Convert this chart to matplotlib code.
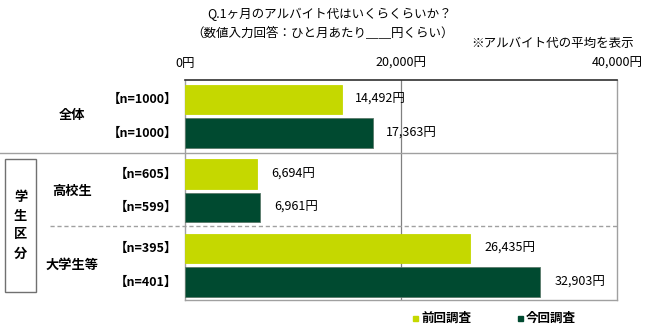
import matplotlib
matplotlib.use("Agg")
import matplotlib.pyplot as plt
from matplotlib.patches import Rectangle

plt.rcParams['font.family'] = ['Noto Sans CJK JP', 'DejaVu Sans']

groups = ["全体", "高校生", "大学生等"]
n_labels = ["【n=1000】", "【n=1000】", "【n=605】", "【n=599】", "【n=395】", "【n=401】"]
series_names = ["前回調査", "今回調査"]
prev_values = [14492, 6694, 26435]
curr_values = [17363, 6961, 32903]
tick_values = [0, 20000, 40000]
tick_labels = ["0円", "20,000円", "40,000円"]

c_prev = "#C5D800"
c_curr = "#004A30"

W, H = 663, 333
fig = plt.figure(figsize=(W / 100, H / 100), dpi=100)
ax_l, ax_r, ax_t, ax_b = 185, 617, 80, 300
ax = fig.add_axes([ax_l / W, 1 - ax_b / H, (ax_r - ax_l) / W, (ax_b - ax_t) / H])
ax.set_xlim(0, 40000)
ax.set_ylim(220, 0)

bar_h = 29.5
for g in range(3):
    for k, (vals, col) in enumerate([(prev_values, c_prev), (curr_values, c_curr)]):
        y = 19.5 + g * 74.5 + k * 33.5
        v = vals[g]
        ax.barh(y, v, height=bar_h, color=col, edgecolor="#5a7a6a" if k == 1 else col,
                linewidth=0.6, zorder=3)
        ax.annotate(f"{v:,}円", xy=(v, y), xytext=(10, 0), textcoords="offset points",
                    ha="left", va="center", fontsize=9, color="black")

ax.axvline(20000, color="#808080", lw=0.9, zorder=1)
ax.set_xticks(tick_values)
ax.set_xticklabels(tick_labels, fontsize=9)
ax.xaxis.tick_top()
ax.tick_params(axis="x", length=0, pad=7.5)
ax.set_yticks([])
for s in ["left", "right", "bottom"]:
    ax.spines[s].set_color("#a0a0a0")
    ax.spines[s].set_linewidth(1.0)
ax.spines["top"].set_color("#303030")
ax.spines["top"].set_linewidth(1.2)

# separators (figure coords)
def fx(px):
    return px / W
def fy(py):
    return 1 - py / H

fig.add_artist(plt.Line2D([fx(0), fx(617)], [fy(153), fy(153)], color="#a0a0a0", lw=1.0))
fig.add_artist(plt.Line2D([fx(50), fx(617)], [fy(226), fy(226)], color="#a0a0a0", lw=1.0,
                          linestyle=(0, (3, 2))))

# n labels
n_y = [99.5, 133, 174.5, 207, 248.5, 282]
for lab, py in zip(n_labels, n_y):
    fig.text(fx(177), fy(py), lab, ha="right", va="center", fontsize=9, fontweight="bold")

# group labels
for lab, py in zip(groups, [115, 191, 265]):
    fig.text(fx(72), fy(py), lab, ha="center", va="center", fontsize=9.5, fontweight="bold")

# 学生区分 box
fig.add_artist(Rectangle((fx(5), fy(292)), (36 - 5) / W, (292 - 159) / H,
                         transform=fig.transFigure, fill=False, edgecolor="#707070", lw=1.0))
fig.text(fx(20.5), fy(225), "学\n生\n区\n分", ha="center", va="center", fontsize=9.5,
         fontweight="bold", linespacing=1.45)

# titles
fig.text(fx(330), fy(14), "Q.1ヶ月のアルバイト代はいくらくらいか？", ha="center", va="center",
         fontsize=9)
fig.text(fx(323), fy(33), "（数値入力回答：ひと月あたり＿＿円くらい）", ha="center", va="center",
         fontsize=9)
fig.text(fx(634), fy(43), "※アルバイト代の平均を表示", ha="right", va="center", fontsize=9)

# legend
for name, col, px in zip(series_names, [c_prev, c_curr], [413, 518]):
    fig.add_artist(Rectangle((fx(px), fy(321)), 5 / W, 5 / H, transform=fig.transFigure,
                             color=col))
    fig.text(fx(px + 8), fy(318), name, ha="left", va="center", fontsize=9, fontweight="bold")

fig.savefig("out.png", dpi=100)
